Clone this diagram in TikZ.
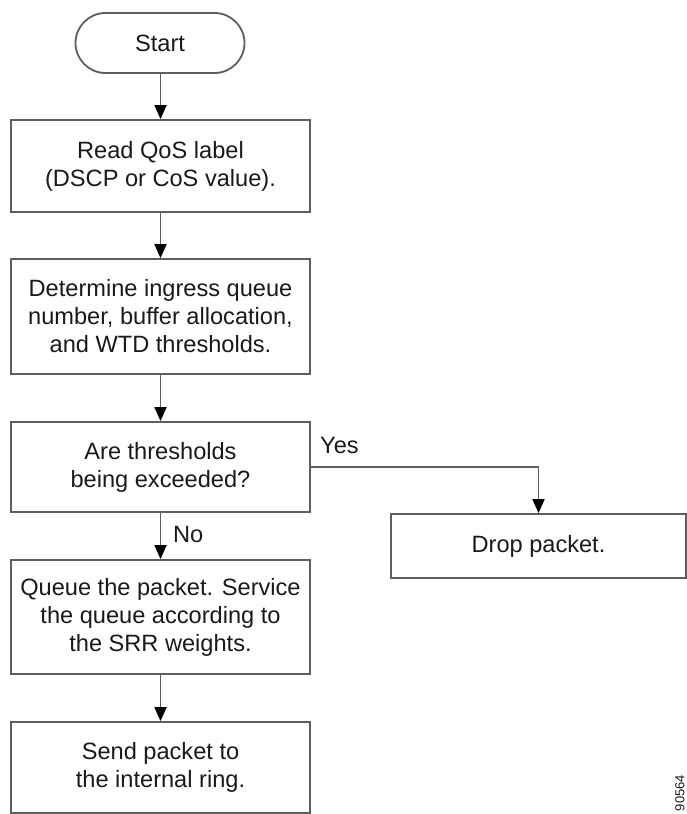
\documentclass[tikz,border=0pt]{standalone}
\usepackage{fontspec}
\setmainfont{Liberation Sans}
\usetikzlibrary{arrows.meta,positioning}

\definecolor{edgegray}{HTML}{5E5E5E}
\definecolor{inkgray}{HTML}{1A1A1A}

\tikzset{
  flowbox/.style={draw=edgegray, line width=1.8pt, fill=white, rectangle,
    inner sep=0pt, align=center, text=inkgray,
    font=\fontsize{23.6}{28}\selectfont},
  termbox/.style={flowbox, rounded corners=30pt},
  flowarrow/.style={draw=edgegray, line width=1.8pt,
    -{Triangle[length=14pt,width=12pt,fill=black,color=black]}},
  branchlabel/.style={anchor=base west, inner sep=0pt, text=inkgray,
    font=\fontsize{23.6}{28}\selectfont},
}

\begin{document}
\begin{tikzpicture}[x=1pt,y=-1pt]
  \useasboundingbox (0,0) rectangle (687,814);

  % main column
  \node[termbox, minimum width=169pt, minimum height=60pt] (start) at (160,43) {Start};
  \node[flowbox, minimum width=299pt, minimum height=92pt] (read) at (160.5,166)
    {Read QoS label\\(DSCP or CoS value).};
  \node[flowbox, minimum width=299pt, minimum height=115pt] (determine) at (160.5,316.5)
    {Determine ingress queue\\number, buffer allocation,\\and WTD thresholds.};
  \node[flowbox, minimum width=299pt, minimum height=90pt] (check) at (160.5,467)
    {Are thresholds\\being exceeded?};
  \node[flowbox, minimum width=299pt, minimum height=114pt] (queue) at (160.5,617)
    {Queue the packet. Service\\the queue according to\\the SRR weights.};
  \node[flowbox, minimum width=299pt, minimum height=91pt] (send) at (160.5,767.5)
    {Send packet to\\the internal ring.};

  % side branch
  \node[flowbox, minimum width=295pt, minimum height=64pt] (drop) at (538.5,546)
    {Drop packet.};

  % connectors
  \draw[flowarrow] (start.south -| read.north) -- (read.north);
  \draw[flowarrow] (read) -- (determine);
  \draw[flowarrow] (determine) -- (check);
  \draw[flowarrow] (check) -- (queue);
  \draw[flowarrow] (queue) -- (send);
  \draw[flowarrow] (check.east) -| (drop.north);

  % branch labels
  \node[branchlabel] (yes) at (320,453) {Yes};
  \node[branchlabel] (no) at (173,542) {No};

  % figure number
  \node[rotate=90, inner sep=0pt, text=inkgray, font=\fontsize{13}{13}\selectfont]
    (fignum) at (680,793) {90564};
\end{tikzpicture}
\end{document}
